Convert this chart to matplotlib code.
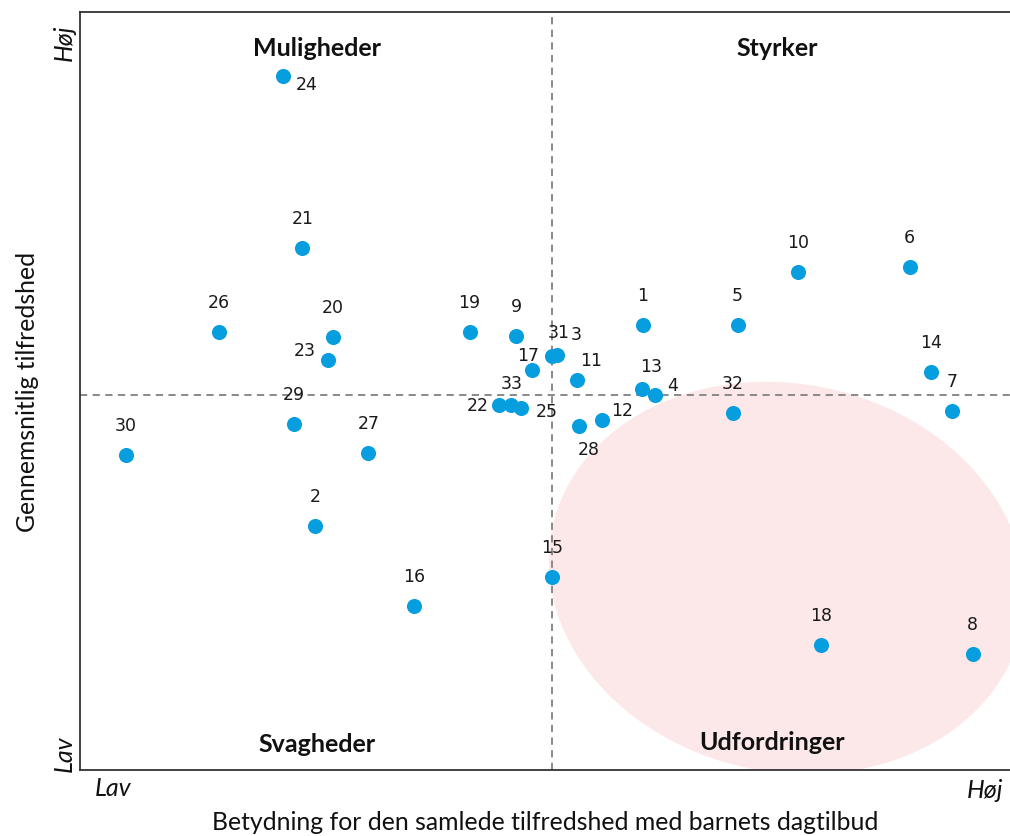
import matplotlib
matplotlib.use("Agg")
import matplotlib.pyplot as plt
import matplotlib.patches as patches
import matplotlib.transforms as mtransforms

# point ids and values (importance on x, satisfaction on y, 0..100 scale)
ids = ["24", "21", "26", "20", "23", "29", "30", "27", "2", "16",
       "19", "9", "31", "3", "17", "11", "33", "22", "25", "28",
       "12", "13", "4", "1", "5", "32", "10", "6", "14", "7",
       "15", "18", "8"]
importance = [21.8, 23.9, 14.9, 27.2, 26.7, 23.0, 4.9, 31.0, 25.3, 35.9,
              41.9, 46.9, 50.8, 51.3, 48.6, 53.4, 46.3, 45.1, 47.4, 53.7,
              56.1, 60.4, 61.8, 60.5, 70.7, 70.2, 77.2, 89.2, 91.5, 93.8,
              50.8, 79.7, 96.0]
satisfaction = [91.6, 68.9, 57.8, 57.1, 54.1, 45.6, 41.6, 41.8, 32.2, 21.6,
                57.8, 57.3, 54.6, 54.7, 52.8, 51.4, 48.1, 48.1, 47.7, 45.4,
                46.2, 50.3, 49.5, 58.7, 58.7, 47.1, 65.7, 66.3, 52.5, 47.4,
                25.4, 16.5, 15.3]
x_mid = 50.8
y_mid = 49.5

# label offsets in pixels (default: straight above the point)
label_offsets = {
    "24": (24, -9), "23": (-24, 9), "31": (6, 23), "3": (19, 20),
    "17": (-4, 14), "11": (15, 19), "33": (1, 21), "22": (-22, -1),
    "25": (26, -4), "28": (9, -24), "12": (20, 9), "13": (9, 22),
    "4": (18, 9),
}

W, H = 1010, 836
fig = plt.figure(figsize=(W / 100, H / 100), dpi=100)
ax_l, ax_b, ax_w, ax_h = 80, 66, 940, 758
ax = fig.add_axes([ax_l / W, ax_b / H, ax_w / W, ax_h / H])
ax.set_xlim(0, 100 * ax_w / 930)
ax.set_ylim(0, 100)

# pink ellipse (drawn in axes pixel units)
ell_tr = mtransforms.Affine2D().scale(1 / ax_w, 1 / ax_h).translate((787 - 80) / ax_w, (770 - 578) / ax_h) + ax.transAxes
ax.add_patch(patches.Ellipse((0, 0), 2 * 240, 2 * 194, angle=-12,
                             facecolor="#fde8e9", edgecolor="none",
                             transform=ell_tr, zorder=0))

ax.axvline(x_mid, color="#808080", lw=1.3, ls=(0, (4, 3)), zorder=1)
ax.axhline(y_mid, color="#808080", lw=1.3, ls=(0, (4, 3)), zorder=1)

ax.scatter(importance, satisfaction, s=118, color="#079ee0", zorder=3, linewidths=0)

for name, x, y in zip(ids, importance, satisfaction):
    dx, dy = label_offsets.get(name, (0, 29))
    ax.annotate(name, (x, y), xytext=(dx * 0.72, dy * 0.72), textcoords="offset points",
                ha="center", va="center", fontsize=12.5, color="#1a1a1a",
                family="DejaVu Sans", zorder=4)

qfont = dict(family="Lato", fontweight="bold", fontsize=18, ha="center", va="center",
             color="#111111")
def px(xp, yp):
    return ((xp - ax_l) / ax_w, (H - yp - ax_b) / ax_h)
ax.text(*px(317, 48), "Muligheder", transform=ax.transAxes, **qfont)
ax.text(*px(777, 48), "Styrker", transform=ax.transAxes, **qfont)
ax.text(*px(317, 745), "Svagheder", transform=ax.transAxes, **qfont)
ax.text(*px(772, 743), "Udfordringer", transform=ax.transAxes, **qfont)

ax.set_xticks([])
ax.set_yticks([])
for s in ["left", "bottom", "top"]:
    ax.spines[s].set_color("#333333")
    ax.spines[s].set_linewidth(1.3)
ax.spines["right"].set_visible(False)

lfont = dict(family="Lato", fontsize=17.8, color="#111111", ha="center", va="center")
fig.text(545 / W, 1 - 823 / H, "Betydning for den samlede tilfredshed med barnets dagtilbud", **lfont)
fig.text(28 / W, 1 - 392 / H, "Gennemsnitlig tilfredshed", rotation=90, **lfont)
ifont = dict(family="Lato", fontsize=18, style="italic", color="#111111", ha="center", va="center")
fig.text(113 / W, 1 - 788 / H, "Lav", **ifont)
fig.text(985 / W, 1 - 790 / H, "Høj", **ifont)
fig.text(64 / W, 1 - 43 / H, "Høj", rotation=90, **ifont)
fig.text(64 / W, 1 - 754 / H, "Lav", rotation=90, **ifont)

fig.savefig("out.png", dpi=100)
